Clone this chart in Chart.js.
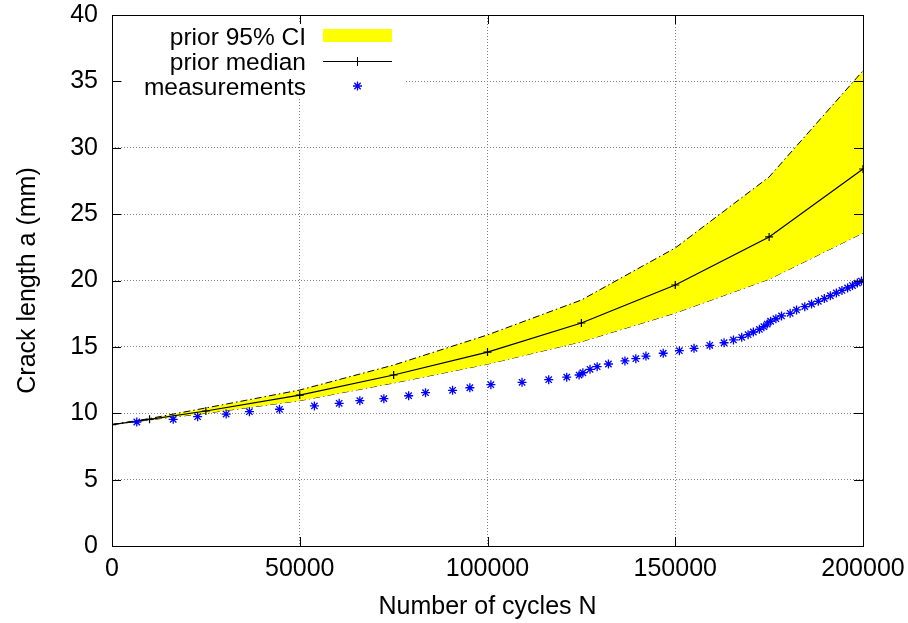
<!DOCTYPE html>
<html>
<head>
<meta charset="utf-8">
<script src="https://cdn.jsdelivr.net/npm/chart.js@4.4.1/dist/chart.umd.min.js"></script>
<style>
  html, body { margin: 0; padding: 0; background: #fff; }
  #wrap { width: 908px; height: 623px; }
</style>
</head>
<body>
<div id="wrap"><canvas id="crackChart" width="908" height="623"></canvas></div>
<script>
// Prior prediction of crack growth, evaluated at these cycle counts
const cycleGrid = [0, 10000, 25000, 50000, 75000, 100000, 125000, 150000, 175000, 200000];
const priorMedian = [9.15, 9.54, 10.17, 11.37, 12.88, 14.61, 16.8, 19.66, 23.28, 28.4];
const priorLow  = [9.15, 9.5, 10.0, 10.95, 12.28, 13.7, 15.39, 17.55, 20.1, 23.58];
const priorHigh = [9.15, 9.6, 10.4, 11.75, 13.63, 15.9, 18.53, 22.45, 27.8, 35.8];

// Measured crack lengths
const measCycles = [6600, 16300, 22800, 30400, 36600, 44600, 53900, 60500, 66000, 72400,
  79000, 83500, 90700, 95300, 100900, 109200, 116300, 121100, 124400, 125400,
  127300, 129200, 132200, 136600, 139500, 142200, 146800, 151100, 155000, 159200,
  163000, 165500, 167700, 169400, 170800, 172400, 173600, 174500, 175400, 176800,
  178300, 180600, 182300, 184500, 186300, 188100, 189700, 191300, 192900, 194400,
  195900, 197200, 198500, 199600];
const measLength = [9.34, 9.54, 9.74, 9.94, 10.12, 10.3, 10.55, 10.75, 10.95, 11.1,
  11.32, 11.55, 11.73, 11.92, 12.15, 12.33, 12.53, 12.72, 12.88, 13.05,
  13.31, 13.51, 13.71, 13.94, 14.11, 14.31, 14.52, 14.71, 14.89, 15.12,
  15.31, 15.52, 15.72, 15.92, 16.12, 16.32, 16.52, 16.72, 16.93, 17.12,
  17.33, 17.53, 17.78, 18.03, 18.23, 18.43, 18.64, 18.85, 19.06, 19.25,
  19.44, 19.62, 19.81, 19.96];

// Tick values
const xTicks = [0, 50000, 100000, 150000, 200000];
const yTicks = [0, 5, 10, 15, 20, 25, 30, 35, 40];

const legendItems = ['prior 95% CI', 'prior median', 'measurements'];

const pairs = (xs, ys) => xs.map((x, i) => ({ x: x, y: ys[i] }));

const FONT = "'Liberation Sans', Arial, Helvetica, sans-serif";
Chart.defaults.font.family = FONT;
Chart.defaults.font.size = 25;
Chart.defaults.color = '#000';

// frame, inward tick marks and the key box (gnuplot look)
const framePlugin = {
  id: 'frame',
  beforeDatasetsDraw(chart) {
    const ctx = chart.ctx;
    ctx.save();
    ctx.fillStyle = '#fff';
    ctx.fillRect(122, 22, 283, 77);
    ctx.restore();
  },
  afterDraw(chart) {
    const ctx = chart.ctx;
    const a = chart.chartArea;
    const xs = chart.scales.x, ys = chart.scales.y;
    const tl = 9;
    ctx.save();
    ctx.strokeStyle = '#000';
    ctx.lineWidth = 1;
    ctx.beginPath();
    yTicks.forEach(v => {
      const py = Math.round(ys.getPixelForValue(v)) + 0.5;
      ctx.moveTo(a.left, py); ctx.lineTo(a.left + tl, py);
      ctx.moveTo(a.right, py); ctx.lineTo(a.right - tl, py);
    });
    xTicks.forEach(v => {
      const px = Math.round(xs.getPixelForValue(v)) + 0.5;
      ctx.moveTo(px, a.bottom); ctx.lineTo(px, a.bottom - tl);
      ctx.moveTo(px, a.top); ctx.lineTo(px, a.top + tl);
    });
    ctx.stroke();
    ctx.strokeRect(Math.round(a.left) + 0.5, Math.round(a.top) + 0.5,
      Math.round(a.right - a.left), Math.round(a.bottom - a.top));

    // key
    ctx.font = '24.5px ' + FONT;
    ctx.textAlign = 'right';
    ctx.textBaseline = 'alphabetic';
    ctx.fillStyle = '#000';
    const rows = [36, 61, 86];
    legendItems.forEach((t, i) => ctx.fillText(t, 306, rows[i] + 8.5));
    ctx.fillStyle = '#ffff00';
    ctx.fillRect(323, 29, 69, 13);
    ctx.beginPath();
    ctx.moveTo(323, 61.5); ctx.lineTo(392, 61.5);
    ctx.moveTo(357.5, 57); ctx.lineTo(357.5, 66);
    ctx.stroke();
    ctx.strokeStyle = '#0000ff';
    ctx.lineWidth = 1.3;
    ctx.beginPath();
    const sx = 357.5, sy = 86, r = 4.5, d = r * Math.SQRT1_2;
    ctx.moveTo(sx - r, sy); ctx.lineTo(sx + r, sy);
    ctx.moveTo(sx, sy - r); ctx.lineTo(sx, sy + r);
    ctx.moveTo(sx - d, sy - d); ctx.lineTo(sx + d, sy + d);
    ctx.moveTo(sx - d, sy + d); ctx.lineTo(sx + d, sy - d);
    ctx.stroke();
    ctx.restore();
  }
};

const ctx = document.getElementById('crackChart');
new Chart(ctx.getContext('2d'), {
  type: 'line',
  data: {
    datasets: [
      {
        label: 'measurements',
        data: pairs(measCycles, measLength),
        showLine: false,
        pointStyle: 'star',
        pointRadius: 4.5,
        pointBorderColor: '#0000ff',
        pointBorderWidth: 1.3,
        pointBackgroundColor: '#0000ff'
      },
      {
        label: 'prior median',
        data: pairs(cycleGrid, priorMedian),
        borderColor: '#000',
        borderWidth: 1.2,
        tension: 0,
        pointStyle: 'cross',
        pointRadius: 4,
        pointBorderColor: '#000',
        pointBorderWidth: 1.2,
        fill: false
      },
      {
        label: 'prior 95% CI',
        data: pairs(cycleGrid, priorHigh),
        borderColor: '#000',
        borderWidth: 1,
        borderDash: [7, 3, 1.5, 3],
        backgroundColor: '#ffff00',
        pointRadius: 0,
        tension: 0,
        fill: '+1'
      },
      {
        label: 'prior 95% CI low',
        data: pairs(cycleGrid, priorLow),
        borderColor: '#000',
        borderWidth: 1,
        borderDash: [7, 3, 1.5, 3],
        pointRadius: 0,
        tension: 0,
        fill: false
      }
    ]
  },
  options: {
    responsive: false,
    animation: false,
    layout: { padding: { top: 15, right: 45, left: 0, bottom: 0 } },
    plugins: {
      legend: { display: false },
      tooltip: { enabled: false }
    },
    scales: {
      x: {
        type: 'linear',
        min: 0,
        max: 200000,
        afterBuildTicks: s => { s.ticks = xTicks.map(v => ({ value: v })); },
        afterFit: s => { s.height = 77; s.paddingLeft = 0; s.paddingRight = 0; },
        ticks: { padding: 8, maxRotation: 0, callback: v => String(v) },
        grid: { color: '#808080', drawTicks: false },
        border: { display: false, dash: [1, 2] },
        title: { display: true, text: 'Number of cycles N', padding: { top: 0, bottom: 1 } }
      },
      y: {
        min: 0,
        max: 40,
        afterBuildTicks: s => { s.ticks = yTicks.map(v => ({ value: v })); },
        afterFit: s => { s.width = 112; s.paddingTop = 0; s.paddingBottom = 0; },
        ticks: { padding: 14, callback: v => String(v) },
        grid: { color: '#808080', drawTicks: false },
        border: { display: false, dash: [1, 2] },
        title: { display: true, text: 'Crack length a (mm)', padding: { top: 13, bottom: 0 } }
      }
    }
  },
  plugins: [framePlugin]
});
</script>
</body>
</html>
